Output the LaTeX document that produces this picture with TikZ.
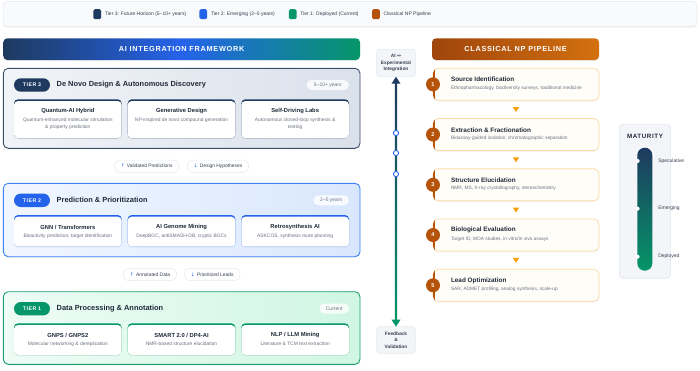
\documentclass[tikz,border=0pt]{standalone}
\usepackage{fontspec}
\setmainfont{Liberation Sans}
\newfontfamily\symfont{DejaVu Sans}
\newfontfamily\spacedfont[LetterSpace=10]{Liberation Sans}
\usetikzlibrary{shadows,arrows.meta}

\definecolor{navy}{HTML}{1E3A5F}
\definecolor{blueT}{HTML}{2563EB}
\definecolor{greenT}{HTML}{059669}
\definecolor{brownT}{HTML}{B45309}
\definecolor{orangeT}{HTML}{F59E0B}
\definecolor{ink}{HTML}{1F2937}
\definecolor{ink2}{HTML}{374151}
\definecolor{muted}{HTML}{6B7280}
\definecolor{bd}{HTML}{E2E8F0}
\definecolor{panel}{HTML}{F3F5F9}
\definecolor{legbg}{HTML}{F8FAFC}
\definecolor{tthreebd}{HTML}{3E4F6B}
\definecolor{ttwobd}{HTML}{3B82F6}
\definecolor{tonebd}{HTML}{1E9E6E}
\definecolor{stepbd}{HTML}{FCD9A0}
\definecolor{stepfill}{HTML}{FFFDF8}
\definecolor{nphL}{HTML}{A0450C}
\definecolor{nphR}{HTML}{D3700F}
\definecolor{tthreeL}{HTML}{F1F4F8}
\definecolor{tthreeR}{HTML}{DAE1EB}
\definecolor{ttwoL}{HTML}{F0F6FF}
\definecolor{ttwoR}{HTML}{D9E7FD}
\definecolor{toneL}{HTML}{EDFCF5}
\definecolor{toneR}{HTML}{D0F6E4}

\pgfdeclarehorizontalshading{aihead}{100bp}{color(0bp)=(navy); color(25bp)=(navy); color(50bp)=(blueT); color(75bp)=(greenT); color(100bp)=(greenT)}

\newcommand\fsz[2]{\fontsize{#1}{#2}\selectfont}

\newcommand\aicard[7]{%
  \node[cardbg, fill=#5, minimum height=#4pt] (#1) at (#2,#3) {};
  \fill[white, rounded corners=4pt] ([yshift=-1.7pt]#1.north west) rectangle (#1.south east);
  \node[cardtitle] (#1t) at ([yshift=-12pt]#1.north) {#6};
  \node[carddesc, anchor=north] (#1d) at ([yshift=-18.6pt]#1.north) {#7};
}

\newcommand\npstep[5]{%
  \node[stepbox] (#1) at (433,#2) {};
  \begin{scope}
    \clip[rounded corners=5pt] (#1.north west) rectangle (#1.south east);
    \fill[brownT] (#1.north west) rectangle ([xshift=2.2pt]#1.south west);
  \end{scope}
  \node[numc] (#1n) at (#1.west) {#3};
  \node[steptitle] (#1t) at ([xshift=18pt,yshift=-11.3pt]#1.north west) {#4};
  \node[stepdesc] (#1d) at ([xshift=18pt,yshift=-19.8pt]#1.north west) {#5};
}

\begin{document}
\begin{tikzpicture}[x=1pt,y=-1pt,
  every node/.style={inner sep=0pt, outer sep=0pt},
  softshadow/.style={drop shadow={opacity=0.10, shadow xshift=0pt, shadow yshift=-1.2pt}},
  tierbox/.style={draw, line width=0.9pt, rounded corners=5pt, anchor=north west,
    minimum width=356.7pt, softshadow},
  badge/.style={rounded corners=6.7pt, minimum width=36pt, minimum height=13.4pt,
    text=white, font=\spacedfont\bfseries\fsz{5.2}{6}},
  tiertitle/.style={anchor=west, text=ink, font=\bfseries\fsz{7.4}{9}},
  yearpill/.style={fill=white, fill opacity=0.8, text opacity=1, rounded corners=5pt,
    minimum height=10pt, text=muted, font=\fsz{5}{6}},
  cardbg/.style={anchor=north west, rounded corners=4pt, minimum width=107.7pt,
    drop shadow={opacity=0.08, shadow xshift=0pt, shadow yshift=-0.8pt}},
  cardtitle/.style={text=ink, font=\bfseries\fsz{5.8}{7}},
  carddesc/.style={text=muted, align=center, font=\fsz{4.9}{6.6}},
  flowpill/.style={fill=white, draw=bd, line width=0.5pt, rounded corners=6pt,
    minimum height=12.3pt, text=ink2, font=\fsz{4.9}{6}},
  stepbox/.style={anchor=north west, draw=stepbd, fill=stepfill, line width=0.7pt,
    rounded corners=5pt, minimum width=166pt, minimum height=32pt, softshadow},
  numc/.style={circle, fill=brownT, minimum size=14pt, text=white,
    font=\bfseries\fsz{5.6}{6}},
  steptitle/.style={anchor=west, text=ink, font=\bfseries\fsz{6.4}{7}},
  stepdesc/.style={anchor=west, text=muted, font=\fsz{4.8}{6}},
  legsq/.style={rounded corners=1.5pt, minimum width=7.7pt, minimum height=10pt},
  legtxt/.style={anchor=west, text=ink2, font=\fsz{5}{6}},
  sidebox/.style={fill=panel, draw=bd, line width=0.5pt, rounded corners=3pt,
    minimum width=38.6pt, align=center, text=ink2, font=\bfseries\fsz{4.8}{6.6}},
  tri/.style={fill=orangeT},
]
\useasboundingbox (0,0) rectangle (700,370);

% ---------------- Legend ----------------
\node[anchor=north west, fill=legbg, draw=bd, line width=0.5pt, rounded corners=4pt,
  minimum width=694pt, minimum height=25pt, softshadow] (legend) at (3,1.5) {};
\node[legsq, fill=navy] (lg3) at (97.2,14.2) {};
\node[legtxt] (lg3t) at (105,14.2) {Tier 3: Future Horizon (5–10+ years)};
\node[legsq, fill=blueT] (lg2) at (203.3,14.2) {};
\node[legtxt] (lg2t) at (211,14.2) {Tier 2: Emerging (2–5 years)};
\node[legsq, fill=greenT] (lg1) at (292.7,14.2) {};
\node[legtxt] (lg1t) at (300.3,14.2) {Tier 1: Deployed (Current)};
\node[legsq, fill=brownT] (lgn) at (376,14.2) {};
\node[legtxt] (lgnt) at (383.5,14.2) {Classical NP Pipeline};

% ---------------- Headers ----------------
\node[anchor=north west, shading=aihead, rounded corners=4pt, minimum width=356.7pt,
  minimum height=21.7pt, softshadow, text=white, font=\spacedfont\bfseries\fsz{7.3}{8}]
  (aih) at (3.3,38.3) {AI INTEGRATION FRAMEWORK};
\node[anchor=north west, left color=nphL, right color=nphR, rounded corners=4pt,
  minimum width=167pt, minimum height=21.7pt, softshadow, text=white,
  font=\spacedfont\bfseries\fsz{7.3}{8}]
  (nph) at (432,38.3) {CLASSICAL NP PIPELINE};

% ---------------- Tier 3 ----------------
\node[tierbox, draw=tthreebd, left color=tthreeL, right color=tthreeR,
  minimum height=80pt] (t3) at (3.3,68.3) {};
\node[badge, fill=navy] (b3) at (32,85) {TIER 3};
\node[tiertitle] (h3) at (56.7,85) {De Novo Design \& Autonomous Discovery};
\node[yearpill, minimum width=42.3pt] (y3) at (327.8,85) {5–10+ years};
\aicard{c31}{14}{99.3}{39}{navy}{Quantum-AI Hybrid}{Quantum-enhanced molecular simulation\\\& property prediction}
\aicard{c32}{127.7}{99.3}{39}{navy}{Generative Design}{NP-inspired de novo compound generation}
\aicard{c33}{241.3}{99.3}{39}{navy}{Self-Driving Labs}{Autonomous closed-loop synthesis \&\\testing}

% pills between tier 3 and tier 2
\node[flowpill, minimum width=64.7pt] (p1) at (146.7,166.2)
  {{\symfont\color{blueT}↑}\hspace{2pt}Validated Predictions};
\node[flowpill, minimum width=61.4pt] (p2) at (218,166.2)
  {{\symfont\color{blueT}↓}\hspace{2pt}Design Hypotheses};

% ---------------- Tier 2 ----------------
\node[tierbox, draw=ttwobd, left color=ttwoL, right color=ttwoR,
  minimum height=73.4pt] (t2) at (3.3,183.3) {};
\node[badge, fill=blueT] (b2) at (32,200.3) {TIER 2};
\node[tiertitle] (h2) at (56.7,200.3) {Prediction \& Prioritization};
\node[yearpill, minimum width=35.7pt] (y2) at (331.2,200.3) {2–5 years};
\aicard{c21}{14}{215}{31.7}{blueT}{GNN / Transformers}{Bioactivity prediction, target identification}
\aicard{c22}{127.7}{215}{31.7}{blueT}{AI Genome Mining}{DeepBGC, antiSMASH-DB, cryptic BGCs}
\aicard{c23}{241.3}{215}{31.7}{blueT}{Retrosynthesis AI}{ASKCOS, synthesis route planning}

% pills between tier 2 and tier 1
\node[flowpill, minimum width=53.4pt] (p3) at (150,274.5)
  {{\symfont\color{blueT}↑}\hspace{2pt}Annotated Data};
\node[flowpill, minimum width=55.7pt] (p4) at (212.2,274.5)
  {{\symfont\color{blueT}↓}\hspace{2pt}Prioritized Leads};

% ---------------- Tier 1 ----------------
\node[tierbox, draw=tonebd, left color=toneL, right color=toneR,
  minimum height=72.6pt] (t1) at (3.3,291.7) {};
\node[badge, fill=greenT] (b1) at (32,308.7) {TIER 1};
\node[tiertitle] (h1) at (56.7,308.7) {Data Processing \& Annotation};
\node[yearpill, minimum width=29.7pt] (y1) at (334.2,308.5) {Current};
\aicard{c11}{14}{323.3}{31.7}{greenT}{GNPS / GNPS2}{Molecular networking \& dereplication}
\aicard{c12}{127.7}{323.3}{31.7}{greenT}{SMART 2.0 / DP4-AI}{NMR-based structure elucidation}
\aicard{c13}{241.3}{323.3}{31.7}{greenT}{NLP / LLM Mining}{Literature \& TCM text extraction}

% ---------------- Integration axis ----------------
\node[sidebox, minimum height=27.4pt] (ai) at (396,63)
  {AI {\symfont ↔}\\Experimental\\Integration};
\node[sidebox, minimum height=26.6pt] (fb) at (396,340)
  {Feedback\\\&\\Validation};
\coordinate (lt) at ([yshift=-7pt]ai.south);
\coordinate (lb) at ([yshift=7pt]fb.north);
\shade[top color=navy, middle color=blueT, bottom color=greenT]
  ([xshift=-1.2pt]lt) rectangle ([xshift=1.2pt]lb);
\draw[navy, line width=2.4pt, -{Triangle[length=7pt,width=8.5pt]}] (lt) -- (ai.south);
\draw[greenT, line width=2.4pt, -{Triangle[length=7pt,width=8.5pt]}] (lb) -- (fb.north);
\node[circle, fill=white, draw=blueT, line width=0.9pt, minimum size=5.2pt] (k1) at (396,133) {};
\node[circle, fill=white, draw=blueT, line width=0.9pt, minimum size=5.2pt] (k2) at (396,153) {};
\node[circle, fill=white, draw=blueT, line width=0.9pt, minimum size=5.2pt] (k3) at (396,174) {};

% ---------------- Pipeline ----------------
\npstep{s1}{68.3}{1}{Source Identification}{Ethnopharmacology, biodiversity surveys, traditional medicine}
\npstep{s2}{118.5}{2}{Extraction \& Fractionation}{Bioassay-guided isolation, chromatographic separation}
\npstep{s3}{168.8}{3}{Structure Elucidation}{NMR, MS, X-ray crystallography, stereochemistry}
\npstep{s4}{219}{4}{Biological Evaluation}{Target ID, MOA studies, in vitro/in vivo assays}
\npstep{s5}{269.3}{5}{Lead Optimization}{SAR, ADMET profiling, analog synthesis, scale-up}

\foreach \a/\b in {s1/s2, s2/s3, s3/s4, s4/s5}{
  \path (\a.south) -- (\b.north) coordinate[midway] (m\a);
  \fill[tri] ([shift={(-3.2,-2.3)}]m\a) -- ([shift={(3.2,-2.3)}]m\a) -- ([shift={(0,2.6)}]m\a) -- cycle;
}

% ---------------- Maturity ----------------
\node[anchor=north west, fill=panel, draw=bd, line width=0.5pt, rounded corners=4pt,
  minimum width=51.4pt, minimum height=154pt, softshadow] (mat) at (619.3,124) {};
\node[text=ink, font=\spacedfont\bfseries\fsz{6.2}{7}] (matt) at (645,136.8) {MATURITY};
\node[anchor=north west, top color=navy, middle color=blueT, bottom color=greenT,
  rounded corners=7.4pt, minimum width=15pt, minimum height=123pt] (mbar) at (637.3,147.7) {};
\node[circle, fill=white, minimum size=4pt] (d1) at (637.6,161) {};
\node[circle, fill=white, minimum size=4pt] (d2) at (637.6,208.7) {};
\node[circle, fill=white, minimum size=4pt] (d3) at (637.6,256.7) {};
\node[anchor=west, text=ink2, font=\fsz{5}{6}] (l1) at (658.3,161) {Speculative};
\node[anchor=west, text=ink2, font=\fsz{5}{6}] (l2) at (658.3,208.7) {Emerging};
\node[anchor=west, text=ink2, font=\fsz{5}{6}] (l3) at (658.3,256.7) {Deployed};
\end{tikzpicture}
\end{document}
